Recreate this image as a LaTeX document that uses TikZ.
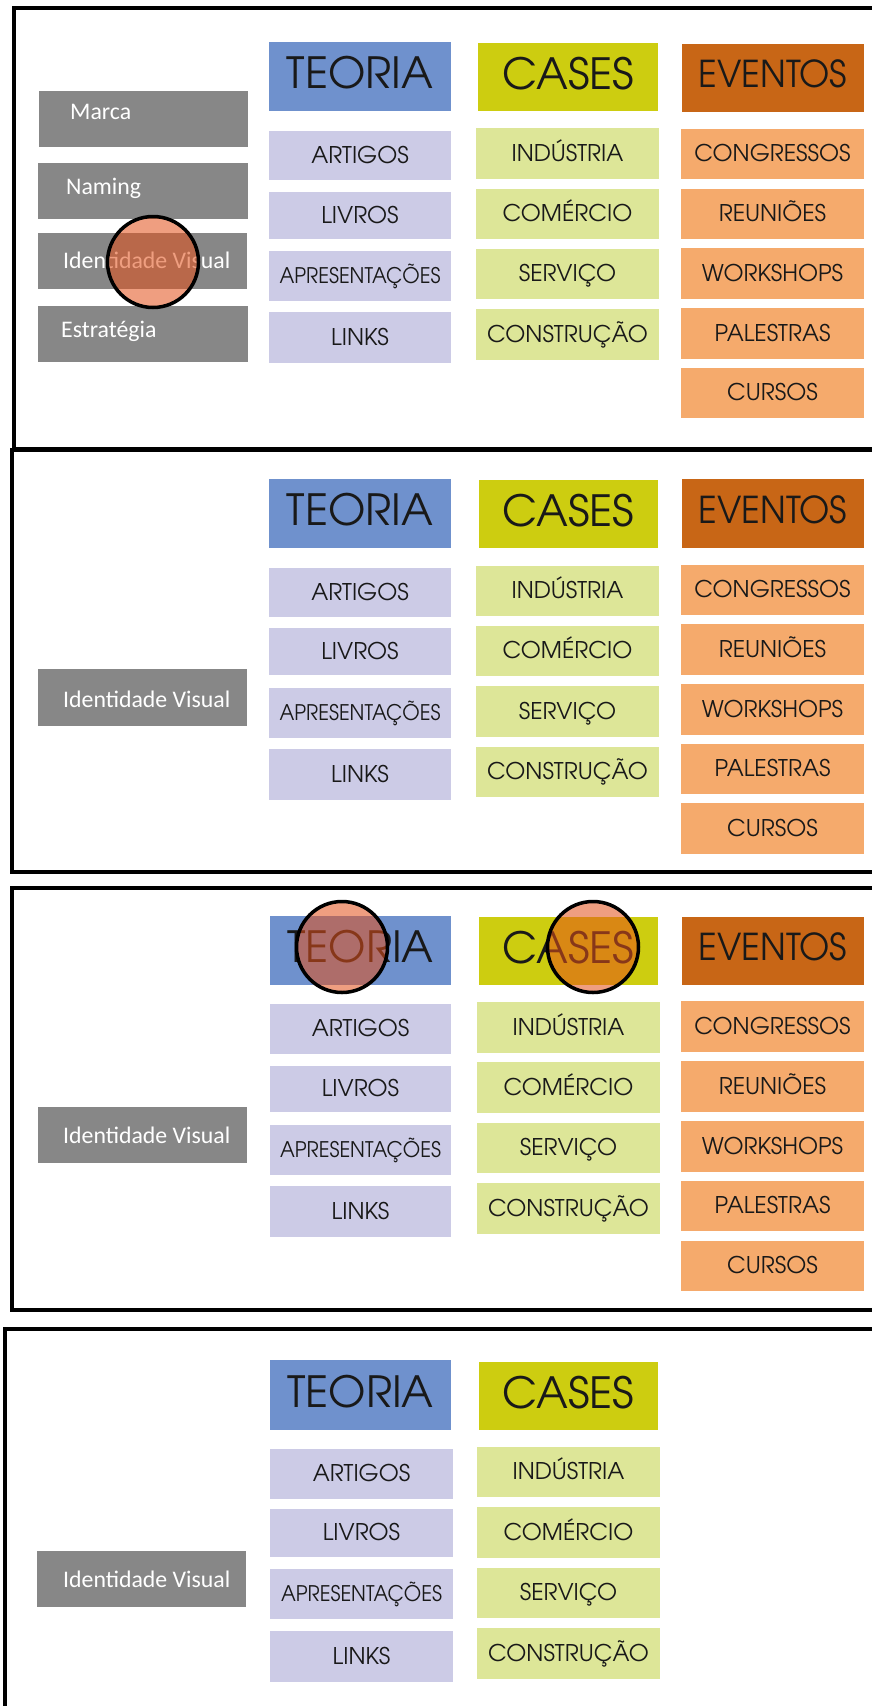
\documentclass[tikz,border=0pt]{standalone}
\usepackage{fontspec}
\newfontfamily\gothic{TeX Gyre Adventor}
\newfontfamily\calib{Carlito}
\definecolor{teoB}{RGB}{111,145,205}
\definecolor{teoL}{RGB}{204,203,230}
\definecolor{casB}{RGB}{205,205,16}
\definecolor{casL}{RGB}{221,230,152}
\definecolor{evB}{RGB}{200,102,22}
\definecolor{evL}{RGB}{245,170,108}
\definecolor{grayB}{RGB}{135,135,135}
\definecolor{txt}{RGB}{25,25,25}
\definecolor{circ}{RGB}{227,80,25}
\tikzset{
  panel/.style={draw=black, line width=4pt},
  cell/.style={rectangle, inner sep=0pt, draw=none, text=txt,
    font=\gothic\fontsize{23}{23}\selectfont, text height=17pt, text depth=2pt},
  head/.style={cell, font=\gothic\fontsize{43}{43}\selectfont, text height=32pt, text depth=8pt},
  teohead/.style={head, fill=teoB},
  teocell/.style={cell, fill=teoL},
  cashead/.style={head, fill=casB},
  cascell/.style={cell, fill=casL},
  evhead/.style={head, fill=evB, font=\gothic\fontsize{37}{37}\selectfont, text height=27pt, text depth=8pt},
  evcell/.style={cell, fill=evL},
  graybox/.style={rectangle, inner sep=0pt, draw=none, fill=grayB},
  graytext/.style={anchor=base west, inner sep=0pt, text=white, font=\calib\fontsize{23.8}{23.8}\selectfont},
  marker/.style={circle, draw=black, line width=3.5pt, fill=circ, fill opacity=0.55, minimum size=91pt, inner sep=0pt}
}
\newcommand\apres{\scalebox{0.93}[1]{\fontsize{21.5}{21.5}\selectfont APRESENTAÇÕES}}
\newcommand\evt{\scalebox{0.94}[1]{EVENTOS}}
% name, x1, y1, x2, y2, style, text
\newcommand\cellbox[7]{%
  \node[#6, minimum width={#4-#2}, minimum height={#5-#3}] (#1) at ({(#2+#4)/2},{(#3+#5)/2}) {#7};}
\begin{document}
\begin{tikzpicture}[x=1pt,y=-1pt]
\useasboundingbox (0,0) rectangle (872,1706);
\clip (0,0) rectangle (872,1706);
\fill[white] (0,0) rectangle (872,1706);
% panels
\draw[panel] (14,7.5) rectangle (900,449);
\draw[panel] (12,450) rectangle (900,872);
\draw[panel] (12,888) rectangle (900,1310);
\draw[panel] (5,1329) rectangle (900,1740);
%% ---------- Panel 1 ----------
\cellbox{a1}{39}{91}{248}{147}{graybox}{}
\cellbox{a2}{38}{163}{248}{219}{graybox}{}
\cellbox{a3}{38}{233}{247}{289}{graybox}{}
\cellbox{a4}{38}{306}{248}{362}{graybox}{}
\node[graytext] (a1t) at (70,119) {Marca};
\node[graytext] (a2t) at (66,194) {Naming};
\node[graytext] (a3t) at (63,268) {Identidade Visual};
\node[graytext] (a4t) at (61,337) {Estratégia};
\cellbox{t10}{269}{42}{451}{111}{teohead}{TEORIA}
\cellbox{t11}{269}{131}{451}{180}{teocell}{ARTIGOS}
\cellbox{t12}{269}{192}{451}{239}{teocell}{LIVROS}
\cellbox{t13}{269}{251}{451}{301}{teocell}{\apres}
\cellbox{t14}{269}{312}{451}{363}{teocell}{LINKS}
\cellbox{c10}{478}{43}{658}{111}{cashead}{CASES}
\cellbox{c11}{476}{128}{659}{179}{cascell}{INDÚSTRIA}
\cellbox{c12}{476}{189}{659}{239}{cascell}{COMÉRCIO}
\cellbox{c13}{476}{249}{659}{299}{cascell}{SERVIÇO}
\cellbox{c14}{476}{309}{659}{360}{cascell}{CONSTRUÇÃO}
\cellbox{e10}{682}{44}{864}{112}{evhead}{\evt}
\cellbox{e11}{681}{129}{864}{179}{evcell}{CONGRESSOS}
\cellbox{e12}{681}{189}{864}{239}{evcell}{REUNIÕES}
\cellbox{e13}{681}{248}{864}{299}{evcell}{WORKSHOPS}
\cellbox{e14}{681}{308}{864}{359}{evcell}{PALESTRAS}
\cellbox{e15}{681}{368}{864}{418}{evcell}{CURSOS}
\node[marker] (m1) at (153,262) {};
%% ---------- Panel 2 ----------
\cellbox{b1}{38}{669}{247}{726}{graybox}{}
\node[graytext] (b1t) at (63,707) {Identidade Visual};
\cellbox{t20}{269}{479}{451}{548}{teohead}{TEORIA}
\cellbox{t21}{269}{568}{451}{617}{teocell}{ARTIGOS}
\cellbox{t22}{269}{628}{451}{675}{teocell}{LIVROS}
\cellbox{t23}{269}{688}{451}{738}{teocell}{\apres}
\cellbox{t24}{269}{749}{451}{800}{teocell}{LINKS}
\cellbox{c20}{479}{480}{658}{548}{cashead}{CASES}
\cellbox{c21}{476}{566}{659}{616}{cascell}{INDÚSTRIA}
\cellbox{c22}{476}{626}{659}{676}{cascell}{COMÉRCIO}
\cellbox{c23}{476}{686}{659}{737}{cascell}{SERVIÇO}
\cellbox{c24}{476}{747}{659}{797}{cascell}{CONSTRUÇÃO}
\cellbox{e20}{682}{479}{864}{548}{evhead}{\evt}
\cellbox{e21}{681}{565}{864}{615}{evcell}{CONGRESSOS}
\cellbox{e22}{681}{624}{864}{675}{evcell}{REUNIÕES}
\cellbox{e23}{681}{684}{864}{735}{evcell}{WORKSHOPS}
\cellbox{e24}{681}{744}{864}{794}{evcell}{PALESTRAS}
\cellbox{e25}{681}{803}{864}{854}{evcell}{CURSOS}
%% ---------- Panel 3 ----------
\cellbox{g1}{38}{1107}{247}{1163}{graybox}{}
\node[graytext] (g1t) at (63,1143) {Identidade Visual};
\cellbox{t30}{270}{916}{451}{985}{teohead}{TEORIA}
\cellbox{t31}{270}{1004}{451}{1054}{teocell}{ARTIGOS}
\cellbox{t32}{270}{1066}{451}{1112}{teocell}{LIVROS}
\cellbox{t33}{270}{1125}{451}{1175}{teocell}{\apres}
\cellbox{t34}{270}{1186}{451}{1237}{teocell}{LINKS}
\cellbox{c30}{479}{917}{658}{985}{cashead}{CASES}
\cellbox{c31}{477}{1002}{660}{1053}{cascell}{INDÚSTRIA}
\cellbox{c32}{477}{1062}{660}{1113}{cascell}{COMÉRCIO}
\cellbox{c33}{477}{1123}{660}{1173}{cascell}{SERVIÇO}
\cellbox{c34}{477}{1183}{660}{1234}{cascell}{CONSTRUÇÃO}
\cellbox{e30}{682}{917}{864}{985}{evhead}{\evt}
\cellbox{e31}{681}{1001}{864}{1052}{evcell}{CONGRESSOS}
\cellbox{e32}{681}{1061}{864}{1112}{evcell}{REUNIÕES}
\cellbox{e33}{681}{1121}{864}{1172}{evcell}{WORKSHOPS}
\cellbox{e34}{681}{1181}{864}{1231}{evcell}{PALESTRAS}
\cellbox{e35}{681}{1241}{864}{1291}{evcell}{CURSOS}
\node[marker] (m2) at (342,947) {};
\node[marker] (m3) at (593,947) {};
%% ---------- Panel 4 ----------
\cellbox{h1}{37}{1551}{246}{1607}{graybox}{}
\node[graytext] (h1t) at (63,1587) {Identidade Visual};
\cellbox{t40}{270}{1360}{451}{1430}{teohead}{TEORIA}
\cellbox{t41}{270}{1449}{453}{1499}{teocell}{ARTIGOS}
\cellbox{t42}{270}{1509}{453}{1557}{teocell}{LIVROS}
\cellbox{t43}{270}{1569}{453}{1619}{teocell}{\apres}
\cellbox{t44}{270}{1631}{453}{1682}{teocell}{LINKS}
\cellbox{c40}{479}{1362}{658}{1430}{cashead}{CASES}
\cellbox{c41}{477}{1447}{660}{1497}{cascell}{INDÚSTRIA}
\cellbox{c42}{477}{1507}{660}{1558}{cascell}{COMÉRCIO}
\cellbox{c43}{477}{1568}{660}{1618}{cascell}{SERVIÇO}
\cellbox{c44}{477}{1628}{660}{1679}{cascell}{CONSTRUÇÃO}
\end{tikzpicture}
\end{document}
